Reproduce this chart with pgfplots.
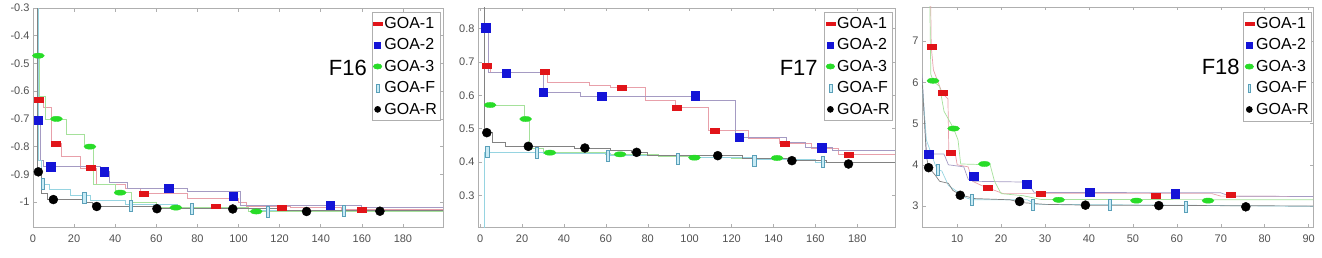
\documentclass[border=0pt]{standalone}
\usepackage{fontspec}
\setmainfont{Liberation Sans}
\usepackage{pgfplots}
\pgfplotsset{compat=1.18}

\definecolor{axgrey}{RGB}{175,175,175}
\definecolor{labgrey}{RGB}{80,80,80}
\definecolor{mred}{RGB}{225,20,25}
\definecolor{mblue}{RGB}{20,20,215}
\definecolor{mgreen}{RGB}{40,220,40}
\definecolor{cfill}{RGB}{200,235,245}
\definecolor{cedge}{RGB}{90,160,185}
\definecolor{lred}{RGB}{232,160,170}
\definecolor{lblue}{RGB}{165,155,195}
\definecolor{lgreen}{RGB}{165,225,155}
\definecolor{lcyan}{RGB}{150,212,225}
\definecolor{lblack}{RGB}{130,130,130}

\pgfplotsset{
  gstyle/.style={
    scale only axis, height=219bp,
    axis line style={draw=axgrey, line width=0.6bp},
    tick style={draw=axgrey, line width=0.5bp},
    major tick length=3.5bp, tick align=inside,
    ticklabel style={font=\fontsize{11bp}{13bp}\selectfont, text=labgrey},
    xticklabel style={yshift=-4.5bp},
    /pgf/number format/assume math mode=true,
    legend cell align=left,
    legend style={anchor=north east, draw=axgrey, line width=0.6bp, fill=white,
      font=\fontsize{16bp}{18bp}\selectfont, inner xsep=1bp, inner ysep=3bp,
      row sep=4.8bp},
  },
  l1/.style={draw=lred, line width=0.7bp, no marks, forget plot},
  l2/.style={draw=lblue, line width=0.7bp, no marks, forget plot},
  l3/.style={draw=lgreen, line width=0.7bp, no marks, forget plot},
  lF/.style={draw=lcyan, line width=0.7bp, no marks, forget plot},
  lR/.style={draw=lblack, line width=0.7bp, no marks, forget plot},
  m1/.style={only marks, forget plot, mark=square*, mark size=4.5bp, mark options={yscale=0.55, fill=mred, draw=mred}},
  m2/.style={only marks, forget plot, mark=square*, mark size=4.2bp, mark options={fill=mblue, draw=mblue}},
  m3/.style={only marks, forget plot, mark=*, mark size=2.6bp, mark options={xscale=2.3, fill=mgreen, draw=mgreen}},
  mF/.style={only marks, forget plot, mark=square*, mark size=5.5bp, mark options={xscale=0.3, fill=cfill, draw=cedge, line width=0.6bp}},
  mR/.style={only marks, forget plot, mark=*, mark size=4.5bp, mark options={fill=black, draw=black}},
}

\newcommand{\goalegend}{%
  \addlegendimage{legend image code/.code={%
     \fill[mred] (0.5bp,-1.7bp) rectangle (9.5bp,1.7bp);}}
  \addlegendentry{GOA-1}
  \addlegendimage{legend image code/.code={%
     \fill[mblue] (2bp,-3bp) rectangle (8bp,3bp);}}
  \addlegendentry{GOA-2}
  \addlegendimage{legend image code/.code={%
     \fill[mgreen] (5bp,0bp) ellipse [x radius=4.2bp, y radius=2.6bp];}}
  \addlegendentry{GOA-3}
  \addlegendimage{legend image code/.code={%
     \filldraw[fill=cfill, draw=cedge, line width=0.5bp] (3.6bp,-4bp) rectangle (6.4bp,4bp);}}
  \addlegendentry{GOA-F}
  \addlegendimage{legend image code/.code={%
     \fill[black] (5bp,0bp) circle [radius=3bp];}}
  \addlegendentry{GOA-R}}

\begin{document}
\begin{tikzpicture}[x=1bp,y=1bp]
\useasboundingbox (0,0) rectangle (1322,257);

% ---------------- F16 ----------------
\begin{axis}[gstyle, at={(33bp,30bp)}, anchor=south west, width=410bp,
  xmin=0, xmax=199.5, ymin=-1.09, ymax=-0.3,
  xtick={0,20,40,60,80,100,120,140,160,180},
  ytick={-1,-0.9,-0.8,-0.7,-0.6,-0.5,-0.4,-0.3},
  yticklabels={-1,-0.9,-0.8,-0.7,-0.6,-0.5,-0.4,-0.3},
  legend style={at={(rel axis cs:0.993,0.982)}}]
\addplot[l1, const plot] coordinates {(1,-0.2) (2,-0.63) (5,-0.66) (9,-0.79) (14,-0.835) (23,-0.88) (31,-0.935) (45,-0.95) (52,-0.97) (75,-0.985) (100,-1.0) (104,-1.015) (125,-1.02) (150,-1.028) (199.5,-1.03)};
\addplot[l2, const plot] coordinates {(1,-0.2) (2,-0.70) (3.5,-0.85) (5,-0.873) (33,-0.891) (37,-0.93) (46,-0.951) (75,-0.963) (101,-1.012) (160,-1.02) (199.5,-1.03)};
\addplot[l3, const plot] coordinates {(1,-0.2) (2,-0.47) (3,-0.62) (6,-0.70) (16,-0.755) (25,-0.80) (29.5,-0.935) (40,-0.966) (48,-1.0) (60,-1.02) (105,-1.032) (199.5,-1.03)};
\addplot[lF, const plot] coordinates {(1,-0.2) (2.5,-0.85) (4,-0.935) (8,-0.955) (18,-0.975) (28,-0.993) (45,-1.01) (70,-1.022) (110,-1.03) (199.5,-1.03)};
\addplot[lR, const plot] coordinates {(1,-0.2) (2,-0.89) (4,-0.97) (7,-0.99) (25,-1.0) (29,-1.016) (60,-1.022) (120,-1.03) (199.5,-1.03)};
\addplot[m1] coordinates {(3,-0.63) (11,-0.79) (28,-0.877) (54,-0.97) (89,-1.015) (121,-1.02) (160,-1.028)};
\addplot[m2] coordinates {(2.6,-0.704) (8.7,-0.873) (34.7,-0.891) (66,-0.951) (97.5,-0.978) (144.5,-1.012)};
\addplot[m3] coordinates {(2.6,-0.472) (11.4,-0.70) (27.7,-0.80) (42.4,-0.966) (69.5,-1.02) (108.6,-1.034)};
\addplot[mF] coordinates {(4.6,-0.933) (24.9,-0.985) (47.5,-1.012) (77.2,-1.024) (114.1,-1.036) (151.3,-1.033)};
\addplot[mR] coordinates {(2.6,-0.891) (9.9,-0.991) (31,-1.016) (60.3,-1.024) (97.2,-1.025) (133.1,-1.034) (168.8,-1.033)};
\goalegend
\node[anchor=east, inner sep=0pt, font=\fontsize{22bp}{24bp}\selectfont] at (rel axis cs:0.8146,0.727) {F16};
\end{axis}

% ---------------- F17 ----------------
\begin{axis}[gstyle, at={(478bp,30bp)}, anchor=south west, width=417bp,
  xmin=-1, xmax=198, ymin=0.205, ymax=0.862,
  xtick={0,20,40,60,80,100,120,140,160,180},
  ytick={0.3,0.4,0.5,0.6,0.7,0.8},
  yticklabels={0.3,0.4,0.5,0.6,0.7,0.8},
  legend style={at={(rel axis cs:0.995,0.982)}}]
\addplot[l1, const plot] coordinates {(1,0.95) (2,0.69) (5,0.67) (32,0.638) (52,0.63) (62,0.623) (79,0.585) (93,0.564) (109,0.494) (128,0.47) (143,0.455) (158,0.44) (171,0.423) (198,0.423)};
\addplot[l2, const plot] coordinates {(1,0.95) (2,0.80) (4,0.67) (30,0.61) (48,0.597) (104,0.585) (122,0.475) (146,0.46) (155,0.443) (168,0.435) (198,0.435)};
\addplot[l3, const plot] coordinates {(1,0.95) (2,0.571) (21,0.529) (23.5,0.44) (30,0.428) (60,0.423) (85,0.418) (100,0.413) (120,0.41) (150,0.405) (165,0.398) (198,0.398)};
\addplot[lF, const plot] coordinates {(1,0.1) (2,0.43) (30,0.427) (55,0.425) (62,0.42) (100,0.413) (130,0.407) (160,0.40) (198,0.398)};
\addplot[lR, const plot] coordinates {(1,0.95) (2,0.488) (6,0.46) (12,0.447) (45,0.442) (62,0.435) (72,0.429) (80,0.42) (125,0.412) (150,0.404) (165,0.398) (198,0.398)};
\addplot[m1] coordinates {(3.2,0.690) (31,0.670) (67.6,0.624) (94,0.564) (112,0.494) (145.3,0.455) (175.8,0.423)};
\addplot[m2] coordinates {(2.7,0.803) (12.5,0.666) (30.2,0.610) (58,0.597) (102.5,0.599) (123.6,0.475) (163,0.443)};
\addplot[m3] coordinates {(4.8,0.571) (21.7,0.529) (33.3,0.428) (66.8,0.423) (102.3,0.413) (141.7,0.412)};
\addplot[mF] coordinates {(3.5,0.430) (27,0.427) (61,0.419) (94.3,0.411) (130.8,0.404) (163.5,0.402)};
\addplot[mR] coordinates {(3.2,0.488) (23,0.447) (50,0.442) (74.7,0.429) (113.4,0.419) (148.8,0.404) (175.8,0.394)};
\goalegend
\node[anchor=east, inner sep=0pt, font=\fontsize{22bp}{24bp}\selectfont] at (rel axis cs:0.815,0.727) {F17};
\end{axis}

% ---------------- F18 ----------------
\begin{axis}[gstyle, at={(922bp,30bp)}, anchor=south west, width=391bp, height=220bp,
  xmin=2, xmax=91, ymin=2.49, ymax=7.83,
  xtick={10,20,30,40,50,60,70,80,90},
  ytick={3,4,5,6,7},
  legend style={at={(rel axis cs:0.997,0.977)}}]
\addplot[l1] coordinates {(3.9,8.5) (4.1,6.86) (4.6,6.3) (6.6,5.74) (7.9,5.6) (8.1,4.3) (9.6,4.25) (10,4.0) (12.5,3.95) (13.5,3.6) (15.5,3.5) (17,3.44) (20.5,3.3) (68,3.3) (70,3.24) (91,3.23)};
\addplot[l2] coordinates {(2,6.2) (3,4.3) (3.5,4.26) (7,4.26) (8,4.0) (11.5,3.95) (12.5,3.65) (13.8,3.6) (26,3.58) (27.5,3.33) (70,3.32) (72,3.24) (91,3.23)};
\addplot[l3] coordinates {(3.7,8.5) (4,6.2) (4.5,6.04) (6,5.9) (7,5.3) (9.2,4.88) (10.2,4.6) (10.8,4.02) (17.5,4.0) (18.5,3.6) (20,3.3) (25,3.25) (29,3.16) (91,3.15)};
\addplot[lF] coordinates {(2,6.0) (3,4.6) (5,4.0) (5.6,3.88) (6.5,3.85) (8,3.5) (10,3.35) (12,3.2) (13.4,3.15) (26,3.15) (28,3.04) (60,3.02) (91,2.99)};
\addplot[lR] coordinates {(2,6.1) (3,4.2) (3.5,3.94) (5,3.75) (6,3.6) (8,3.55) (9,3.38) (10.7,3.27) (14,3.18) (22,3.15) (25,3.08) (30,3.04) (40,3.02) (91,3.0)};
\addplot[m1] coordinates {(4.1,6.86) (6.6,5.74) (8.6,4.29) (17,3.44) (29.1,3.30) (55.3,3.26) (72.2,3.28)};
\addplot[m2] coordinates {(3.5,4.26) (13.8,3.72) (25.8,3.53) (40.2,3.33) (59.6,3.30)};
\addplot[m3] coordinates {(4.5,6.04) (9.2,4.88) (16.2,4.02) (33.1,3.15) (50.8,3.13) (67.1,3.13)};
\addplot[mF] coordinates {(5.6,3.88) (13.4,3.15) (27.2,3.04) (44.7,3.04) (62.1,2.98)};
\addplot[mR] coordinates {(3.5,3.93) (10.7,3.26) (24.2,3.11) (39.2,3.02) (55.9,3.01) (75.7,2.98)};
\goalegend
\node[anchor=east, inner sep=0pt, font=\fontsize{22bp}{24bp}\selectfont] at (rel axis cs:0.813,0.7286) {F18};
\end{axis}
\end{tikzpicture}
\end{document}
